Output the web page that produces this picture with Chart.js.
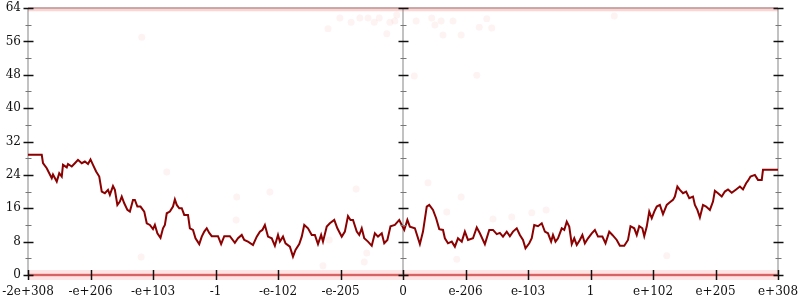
<!DOCTYPE html>
<html>
<head>
<meta charset="utf-8">
<script src="https://cdn.jsdelivr.net/npm/chart.js@4"></script>
<style>
  html, body { margin: 0; padding: 0; background: #fff; }
  #wrap { width: 800px; height: 300px; }
</style>
</head>
<body>
<div id="wrap"><canvas id="c"></canvas></div>
<script>
// x axis labels, one per unit from -6 to 6
const xLabels = ['-2e+308', '-e+206', '-e+103', '-1', '-e-102', '-e-205', '0',
  'e-206', 'e-103', '1', 'e+102', 'e+205', 'e+308'];
const xMin = -6, xMax = 6;
const yMin = 0, yMax = 64, yStep = 8;

// main series
const walkX = [-6.00, -5.78, -5.76, -5.70, -5.66, -5.62, -5.60, -5.54, -5.50, -5.46, -5.44, -5.38, -5.36, -5.30,
  -5.25, -5.20, -5.14, -5.09, -5.04, -5.00, -4.96, -4.91, -4.86, -4.82, -4.77, -4.72, -4.69, -4.64, -4.61,
  -4.57, -4.53, -4.50, -4.46, -4.41, -4.37, -4.32, -4.29, -4.25, -4.20, -4.14, -4.10, -4.05, -4.00, -3.97,
  -3.93, -3.88, -3.84, -3.81, -3.78, -3.73, -3.68, -3.65, -3.62, -3.58, -3.54, -3.50, -3.44, -3.41, -3.36,
  -3.32, -3.26, -3.22, -3.18, -3.14, -3.10, -3.06, -2.96, -2.91, -2.86, -2.77, -2.69, -2.64, -2.58, -2.54,
  -2.48, -2.40, -2.34, -2.29, -2.25, -2.21, -2.16, -2.10, -2.05, -2.00, -1.97, -1.92, -1.88, -1.81, -1.76,
  -1.72, -1.66, -1.62, -1.58, -1.52, -1.46, -1.41, -1.36, -1.31, -1.28, -1.22, -1.17, -1.10, -1.05, -0.98,
  -0.93, -0.88, -0.84, -0.80, -0.74, -0.70, -0.66, -0.62, -0.56, -0.50, -0.45, -0.40, -0.34, -0.30, -0.25,
  -0.20, -0.13, -0.06, -0.02, 0.02, 0.07, 0.11, 0.19, 0.27, 0.32, 0.38, 0.42, 0.48, 0.53, 0.58, 0.64, 0.67,
  0.72, 0.78, 0.83, 0.88, 0.94, 0.99, 1.04, 1.12, 1.18, 1.23, 1.31, 1.38, 1.44, 1.50, 1.55, 1.60, 1.66,
  1.71, 1.76, 1.82, 1.87, 1.92, 1.96, 2.02, 2.06, 2.10, 2.16, 2.22, 2.27, 2.32, 2.37, 2.40, 2.44, 2.48,
  2.54, 2.58, 2.62, 2.66, 2.70, 2.74, 2.78, 2.83, 2.87, 2.91, 2.96, 3.02, 3.07, 3.12, 3.19, 3.24, 3.30,
  3.35, 3.42, 3.47, 3.54, 3.60, 3.64, 3.70, 3.74, 3.78, 3.83, 3.86, 3.90, 3.94, 3.98, 4.02, 4.06, 4.11,
  4.16, 4.22, 4.26, 4.32, 4.35, 4.39, 4.43, 4.48, 4.53, 4.58, 4.64, 4.67, 4.71, 4.75, 4.80, 4.85, 4.91,
  4.96, 4.99, 5.04, 5.10, 5.15, 5.20, 5.26, 5.33, 5.39, 5.44, 5.49, 5.52, 5.56, 5.63, 5.68, 5.74, 5.76, 6.00];
const walkY = [28.8, 28.8, 26.8, 25.6, 24.4, 23.2, 24.1, 22.4, 24.4, 23.6, 26.4, 25.8, 26.6, 26.0,
  26.8, 27.6, 26.8, 27.2, 26.6, 27.7, 26.4, 24.8, 23.6, 20.0, 19.6, 20.4, 19.2, 21.3, 20.4,
  16.8, 17.6, 18.8, 17.2, 15.6, 15.2, 18.0, 18.0, 16.4, 16.4, 15.2, 12.4, 12.0, 11.0, 12.0,
  10.0, 8.9, 11.2, 12.0, 14.8, 15.2, 16.4, 18.1, 16.8, 16.0, 16.0, 14.4, 14.4, 11.2, 10.8,
  8.8, 7.4, 9.2, 10.4, 11.2, 10.1, 9.3, 9.3, 7.4, 9.3, 9.3, 7.7, 8.8, 9.6, 8.4,
  8.0, 7.2, 9.2, 10.4, 10.8, 12.0, 9.2, 8.8, 7.0, 9.6, 8.0, 9.2, 7.6, 6.8, 4.4,
  6.0, 7.4, 9.2, 12.0, 11.2, 9.6, 9.6, 7.4, 9.6, 8.0, 11.6, 12.4, 13.2, 11.2, 9.2,
  10.4, 14.1, 13.2, 13.2, 10.4, 9.6, 11.2, 8.8, 8.0, 7.0, 10.0, 9.2, 10.0, 7.6, 8.4,
  11.7, 12.0, 13.2, 12.0, 10.8, 13.2, 11.6, 11.2, 7.4, 10.4, 16.4, 16.8, 15.6, 13.6, 11.0, 10.8, 8.8,
  7.6, 8.0, 6.8, 8.8, 8.0, 10.4, 8.4, 8.8, 11.4, 10.0, 7.4, 10.8, 10.8, 9.8, 10.1, 9.2, 10.4,
  9.3, 10.4, 11.2, 9.6, 8.4, 6.4, 7.6, 8.8, 12.0, 11.7, 12.4, 10.4, 10.0, 8.0, 9.6, 8.0, 8.8,
  11.2, 10.8, 12.8, 11.6, 7.4, 8.8, 7.2, 8.4, 9.6, 7.6, 8.8, 10.0, 10.8, 9.2, 9.2, 7.6, 10.4,
  9.6, 8.4, 7.0, 7.0, 8.4, 11.7, 11.2, 9.6, 11.7, 11.2, 9.3, 11.6, 15.2, 13.6, 15.2, 16.4, 16.8,
  14.6, 16.8, 17.3, 18.0, 18.8, 21.2, 20.4, 19.6, 20.0, 18.4, 18.8, 16.8, 15.6, 13.8, 16.8, 16.4, 15.6,
  17.6, 20.2, 19.6, 18.8, 20.0, 20.5, 19.7, 20.5, 21.2, 20.5, 22.0, 22.6, 23.6, 24.0, 22.8, 22.8, 25.2, 25.2];

// faint scattered dots
const dotX = [-1.20, -1.01, -0.83, -0.69, -0.56, -0.46, -0.38, -0.26, -0.21, -0.13, -0.10, 0.18, 0.21, 0.46,
  0.51, 0.61, 0.64, 0.80, 0.93, 1.18, 1.22, 1.34, 1.42, -4.18, -3.78, -4.19, -2.66, -2.13, -2.67, -0.75,
  -1.18, -0.58, -0.62, -1.28, 0.40, 0.93, 0.70, 1.44, 1.74, 2.06, 2.29, 0.86, 4.22, 3.38];
const dotY = [59.0, 61.6, 60.6, 61.6, 61.6, 60.6, 61.6, 57.8, 60.6, 60.9, 62.3, 47.7, 60.9, 61.6,
  59.9, 60.9, 57.5, 60.9, 57.5, 47.9, 59.4, 61.4, 59.2, 57.0, 24.7, 4.3, 18.7, 19.9, 13.2, 20.6,
  8.4, 5.3, 3.1, 2.2, 22.1, 18.7, 15.1, 13.4, 13.9, 14.9, 15.6, 3.8, 4.6, 62.1];

const lineColor = '#8b0000';
const labelFont = "12px 'DejaVu Serif', serif";

const walkData = walkX.map((x, i) => ({ x: x, y: walkY[i] }));
const dotData = dotX.map((x, i) => ({ x: x, y: dotY[i] }));
const bandBottom = [{ x: xMin, y: yMin }, { x: xMax, y: yMin }];
const bandTop = [{ x: xMin, y: yMax - 0.3 }, { x: xMax, y: yMax - 0.3 }];

// axes, ticks and labels drawn by hand so ticks can cross the axis lines
const axesPlugin = {
  id: 'axes',
  beforeDatasetsDraw(chart) {
    const { ctx, chartArea: a, scales: { x, y } } = chart;
    ctx.save();
    ctx.strokeStyle = '#c2c2c2';
    ctx.lineWidth = 2;
    ctx.beginPath();
    [xMin, 0, xMax].forEach(v => {
      const px = Math.round(x.getPixelForValue(v));
      ctx.moveTo(px, a.top); ctx.lineTo(px, a.bottom);
    });
    ctx.moveTo(a.left, a.top); ctx.lineTo(a.right, a.top);
    ctx.moveTo(a.left, a.bottom); ctx.lineTo(a.right, a.bottom);
    ctx.stroke();
    ctx.restore();
  },
  afterDatasetsDraw(chart) {
    const { ctx, chartArea: a, scales: { x, y } } = chart;
    ctx.save();
    // y ticks on the three vertical axes
    [xMin, 0, xMax].forEach(v => {
      const px = Math.round(x.getPixelForValue(v)) + 0.5;
      for (let t = yMin; t <= yMax; t += yStep / 2) {
        const py = Math.round(y.getPixelForValue(t)) + 0.5;
        const major = t % yStep === 0;
        ctx.strokeStyle = major ? '#111' : '#777';
        ctx.lineWidth = major ? 1.5 : 1;
        const half = major ? 5 : 3;
        ctx.beginPath();
        ctx.moveTo(px - half, py); ctx.lineTo(px + half, py);
        ctx.stroke();
      }
    });
    // x ticks on bottom axis
    ctx.strokeStyle = '#111';
    ctx.lineWidth = 1.5;
    xLabels.forEach((lbl, i) => {
      const px = Math.round(x.getPixelForValue(xMin + i)) + 0.5;
      ctx.beginPath();
      ctx.moveTo(px, a.bottom - 5); ctx.lineTo(px, a.bottom + 5);
      ctx.stroke();
    });
    // labels
    ctx.fillStyle = '#111';
    ctx.font = labelFont;
    ctx.textAlign = 'right';
    ctx.textBaseline = 'middle';
    for (let t = yMin; t <= yMax; t += yStep) {
      ctx.fillText(String(t), a.left - 7, y.getPixelForValue(t));
    }
    ctx.textAlign = 'center';
    ctx.textBaseline = 'alphabetic';
    xLabels.forEach((lbl, i) => {
      ctx.fillText(lbl, x.getPixelForValue(xMin + i), a.bottom + 20);
    });
    ctx.restore();
  }
};

new Chart(document.getElementById('c'), {
  type: 'line',
  data: {
    datasets: [
      {
        data: bandBottom, borderColor: 'rgba(240,80,80,0.15)', borderWidth: 10,
        pointRadius: 0, clip: false
      },
      {
        data: bandBottom, borderColor: 'rgba(225,30,30,0.55)', borderWidth: 2.5,
        pointRadius: 0, clip: false
      },
      {
        data: bandTop, borderColor: 'rgba(235,60,60,0.22)', borderWidth: 4,
        pointRadius: 0, clip: false
      },
      {
        type: 'scatter', data: dotData, pointRadius: 3.5,
        backgroundColor: 'rgba(240,90,90,0.07)', borderWidth: 0
      },
      {
        data: walkData, borderColor: lineColor, borderWidth: 2,
        pointRadius: 0, tension: 0, fill: false
      }
    ]
  },
  options: {
    responsive: true,
    maintainAspectRatio: false,
    animation: false,
    layout: { padding: { left: 28, right: 22, top: 8, bottom: 25 } },
    plugins: { legend: { display: false }, tooltip: { enabled: false } },
    scales: {
      x: { type: 'linear', min: xMin, max: xMax, display: false },
      y: { min: yMin, max: yMax, display: false }
    }
  },
  plugins: [axesPlugin]
});
</script>
</body>
</html>
